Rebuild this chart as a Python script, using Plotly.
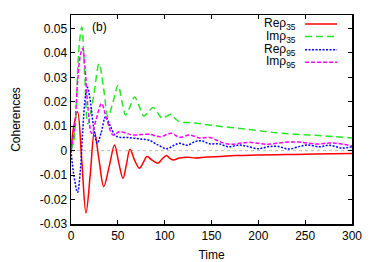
import plotly.graph_objects as go

# ---- data ----
re35_t = [0, 3, 7, 11.5, 16, 20.5, 25, 30, 35, 41, 46.5, 51, 55.5, 59, 63, 68, 73, 77, 81, 87, 93, 97, 102, 105, 109,
          116, 125, 133, 145, 160, 175, 200, 230, 260, 300]
re35_v = [0, 0.010, 0.0159, -0.004, -0.0255, -0.010, 0.0078, -0.004, -0.0147, -0.006, 0.0023, -0.005, -0.0113, -0.006,
          0.0006, -0.004, -0.0072, -0.005, -0.0024, -0.004, -0.0051, -0.0035, -0.002, -0.003, -0.0038,
          -0.003, -0.0027, -0.003, -0.0026, -0.0024, -0.002, -0.0018, -0.0016, -0.0014, -0.0012]

im35_t = [0, 3, 5.6, 7.4, 9.2, 11.5, 14.5, 18, 24, 30, 35, 39.5, 45, 50.3, 54.5, 58.5, 63, 68, 73, 77.7, 83, 87.6, 92.5,
          97.5, 102, 107, 111.5, 116, 125, 134, 148, 160, 180, 200, 220, 240, 260, 280, 300]
im35_v = [0, 0.004, 0.018, 0.035, 0.045, 0.0505, 0.032, 0.011, 0.022, 0.0356, 0.025, 0.014, 0.020, 0.0268, 0.020, 0.0146,
          0.018, 0.022, 0.018, 0.0142, 0.016, 0.0177, 0.0155, 0.0132, 0.014, 0.0149, 0.013, 0.0118, 0.0115, 0.0112,
          0.0105, 0.0099, 0.0091, 0.0082, 0.0073, 0.0067, 0.0063, 0.0058, 0.0052]

re95_t = [0, 3, 7, 10, 12.5, 15, 17.4, 20, 24, 28, 32, 37, 42, 47, 52, 63, 73, 84, 92, 102, 110, 116, 124, 133, 140, 148,
          158, 168, 180, 188, 200, 210, 220, 233, 245, 252, 265, 276, 289, 300]
re95_v = [0, -0.010, -0.017, -0.008, 0.008, 0.021, 0.0259, 0.022, 0.010, 0.003, 0.007, 0.0139, 0.010, 0.0063, 0.0055,
          0.0053, 0.0048, 0.0042, 0.0025, 0.0008, 0.0022, 0.003, 0.0022, 0.0038, 0.0040, 0.0028, 0.0028, 0.0016,
          0.0023, 0.0018, 0.0008, 0.0016, 0.0018, 0.0007, 0.0018, 0.0023, 0.0016, 0.0022, 0.0011, 0.0016]

im95_t = [0, 4, 7, 10, 12.4, 15, 18, 22, 27, 32.6, 38, 45, 52, 60, 66, 75, 84, 95, 107, 116, 127, 137, 148, 160, 170,
          180, 190, 200, 208, 215, 228, 244, 262, 275, 283, 300]
im95_v = [0, 0.010, 0.028, 0.039, 0.0418, 0.034, 0.018, 0.0071, 0.013, 0.0193, 0.013, 0.0064, 0.0078, 0.0070, 0.0064,
          0.0066, 0.0067, 0.0057, 0.0071, 0.0055, 0.0064, 0.0052, 0.0054, 0.0035, 0.0026, 0.003, 0.0034, 0.003,
          0.0026, 0.0028, 0.0034, 0.0035, 0.0027, 0.0031, 0.003, 0.002]

x_ticks = [0, 50, 100, 150, 200, 250, 300]
y_ticks = [-0.03, -0.02, -0.01, 0, 0.01, 0.02, 0.03, 0.04, 0.05]
y_tick_text = ["-0.03", "-0.02", "-0.01", "0", "0.01", "0.02", "0.03", "0.04", "0.05"]

series_names = ["Reρ<sub>35</sub>", "Imρ<sub>35</sub>", "Reρ<sub>95</sub>", "Imρ<sub>95</sub>"]
series_colors = ["#ff0000", "#22e822", "#0000ff", "#ff00ff"]
series_dash = ["solid", "7px,4px", "2px,1.5px", "4px,2px"]

FONT = "Liberation Sans, Arial, sans-serif"

fig = go.Figure()
data = [(re35_t, re35_v), (im35_t, im35_v), (re95_t, re95_v), (im95_t, im95_v)]
for (t, v), name, col, dash in zip(data, series_names, series_colors, series_dash):
    fig.add_trace(go.Scatter(x=t, y=v, mode="lines", name=name,
                             line=dict(color=col, width=1.5, dash=dash, shape="spline", smoothing=1.0),
                             showlegend=False))

# zero line
fig.add_shape(type="line", xref="paper", yref="y", x0=0, x1=1, y0=0, y1=0,
              line=dict(color="#aaaaaa", width=0.8, dash="dot"), layer="below")

# gnuplot-style legend (text right, sample to the right)
leg_y = [0.957, 0.897, 0.834, 0.774]
for i, (name, col, dash) in enumerate(zip(series_names, series_colors, series_dash)):
    fig.add_annotation(xref="paper", yref="paper", x=0.807, y=leg_y[i], text=name, showarrow=False,
                       xanchor="right", yanchor="middle", font=dict(family=FONT, size=12, color="black"))
    fig.add_shape(type="line", xref="paper", yref="paper", x0=0.833, x1=0.947, y0=leg_y[i], y1=leg_y[i],
                  line=dict(color=col, width=1.5, dash=dash))

fig.add_annotation(xref="paper", yref="paper", x=0.068, y=0.985, text="(b)", showarrow=False,
                   xanchor="left", yanchor="top", font=dict(family=FONT, size=12, color="black"))

fig.update_layout(
    width=374, height=262,
    margin=dict(l=71, r=22, t=15, b=38, autoexpand=False),
    paper_bgcolor="white", plot_bgcolor="white",
    font=dict(family=FONT, size=12, color="black"),
    xaxis=dict(range=[0, 300], tickvals=x_ticks, ticks="inside", ticklen=4, tickcolor="black",
               showline=True, linecolor="black", linewidth=1.5, mirror="allticks", showgrid=False,
               zeroline=False, automargin=False, title=dict(text="Time", standoff=9, font=dict(size=12)),
               tickfont=dict(size=12)),
    yaxis=dict(range=[-0.03, 0.0555], tickvals=y_ticks, ticktext=y_tick_text, ticks="inside", ticklen=4,
               tickcolor="black", showline=True, linecolor="black", linewidth=1.5, mirror="allticks",
               showgrid=False, zeroline=False, automargin=False,
               title=dict(text="Coherences", standoff=16, font=dict(size=12)),
               tickfont=dict(size=12)),
)

fig.write_html("out.html", config={"displayModeBar": False, "staticPlot": True},
               post_script="document.body.style.margin='0px';document.body.style.overflow='hidden';")
